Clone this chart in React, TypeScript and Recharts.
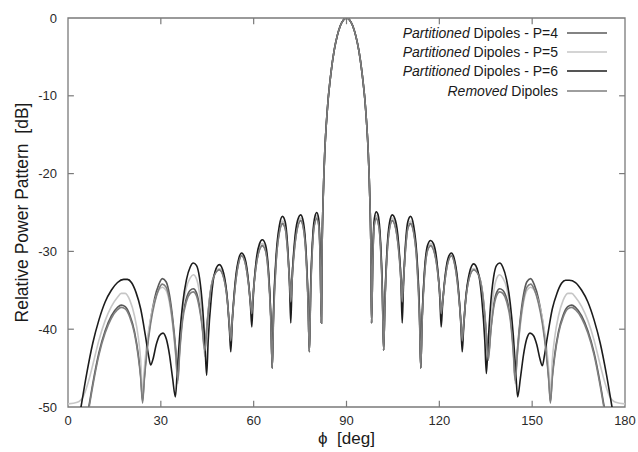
import React from 'react';
import { LineChart, Line, XAxis, YAxis, ReferenceLine, ReferenceArea } from 'recharts';

const FONT = '"Liberation Sans", Arial, Helvetica, sans-serif';

const xTicks = [0, 30, 60, 90, 120, 150, 180];
const yTicks = [-50, -40, -30, -20, -10, 0];

// angle grid (deg) for P=4, P=5 and Removed; left half ascending, right half descending
const phiLeftA = [0, 3, 5, 6.7, 8, 10, 12, 14, 16, 17.2, 18.5, 20, 21.5, 22.7, 23.5, 24.1, 24.6, 25.5, 26.7, 28,
  29.3, 30.5, 31.7, 32.8, 33.8, 34.8, 35.5, 36.1, 37, 38.3, 39.5, 40.5, 41.5, 42.5, 43.3, 44.2, 45, 46, 47.3, 48.9,
  50.3, 51.5, 52.2, 52.6, 53.1, 54.2, 55.2, 56.1, 57.2, 58.3, 59, 59.4, 59.8, 60.9, 61.9, 62.8, 63.8, 64.8, 65.6, 66,
  66.4, 67.3, 68.3, 69.3, 70.2, 71, 71.6, 72, 72.4, 73.2, 74.2, 75.2, 76.1, 77, 77.6, 78, 78.4, 79.2, 79.8, 80.4,
  81, 81.5, 81.9, 82.1, 82.4, 82.7, 83, 83.5, 84, 85, 86, 87, 88, 89, 90];
const phiRightA = [180, 177, 175, 173.3, 172, 170, 168, 166, 164, 162.8, 161.5, 160, 158.5, 157.3, 156.5, 155.9, 155.4, 154.5, 153.3, 152,
  150.7, 149.5, 148.3, 147.2, 146.2, 145.2, 144.5, 143.9, 143, 141.7, 140.5, 139.5, 138.5, 137.5, 136.7, 135.8, 135, 134, 132.7, 131.1,
  129.7, 128.5, 127.8, 127.4, 126.9, 125.8, 124.8, 123.9, 122.8, 121.7, 121, 120.6, 120.2, 119.1, 118.1, 117.2, 116.2, 115.2, 114.4, 114,
  113.6, 112.7, 111.7, 110.7, 109.8, 109, 108.4, 108, 107.6, 106.8, 105.8, 104.8, 103.9, 103, 102.4, 102, 101.6, 100.8, 100.2, 99.6,
  99, 98.5, 98.1, 97.9, 97.6, 97.3, 97, 96.5, 96, 95, 94, 93, 92, 91];

// angle grid for P=6
const phiLeftD = [0, 2, 4.2, 6, 8, 10, 12, 14, 16, 18, 19.2, 20.5, 22, 23.5, 25, 26, 26.7, 27.5, 28.5, 29.6,
  30.7, 31.8, 32.8, 33.8, 34.7, 35.3, 36.1, 37.1, 38.3, 39.5, 40.5, 41.5, 42.5, 43.5, 44.3, 44.8, 45.3, 46.3, 47.5, 48.9,
  50.3, 51.5, 52.2, 52.6, 53.1, 54.2, 55.2, 56.1, 57.2, 58.3, 59, 59.4, 59.8, 60.9, 61.9, 62.8, 63.8, 64.8, 65.6, 66,
  66.4, 67.3, 68.3, 69.3, 70.2, 71, 71.6, 72, 72.4, 73.2, 74.2, 75.2, 76.1, 77, 77.6, 78, 78.4, 79.2, 79.8, 80.4,
  81, 81.5, 81.9, 82.1, 82.4, 82.7, 83, 83.5, 84, 85, 86, 87, 88, 89, 90];
const phiRightD = [180, 178, 175.8, 174, 172, 170, 168, 166, 164, 162, 160.8, 159.5, 158, 156.5, 155, 154, 153.3, 152.5, 151.5, 150.4,
  149.3, 148.2, 147.2, 146.2, 145.3, 144.7, 143.9, 142.9, 141.7, 140.5, 139.5, 138.5, 137.5, 136.5, 135.7, 135.2, 134.7, 133.7, 132.5, 131.1,
  129.7, 128.5, 127.8, 127.4, 126.9, 125.8, 124.8, 123.9, 122.8, 121.7, 121, 120.6, 120.2, 119.1, 118.1, 117.2, 116.2, 115.2, 114.4, 114,
  113.6, 112.7, 111.7, 110.7, 109.8, 109, 108.4, 108, 107.6, 106.8, 105.8, 104.8, 103.9, 103, 102.4, 102, 101.6, 100.8, 100.2, 99.6,
  99, 98.5, 98.1, 97.9, 97.6, 97.3, 97, 96.5, 96, 95, 94, 93, 92, 91];

// Partitioned Dipoles - P=4 (dB)
const p4Left = [-62, -57, -53, -50, -47, -43, -40.2, -38.3, -37.2, -36.9,
  -37.1, -38.2, -40.3, -43.2, -46.0, -49.2, -46.5, -42.5, -38.8, -36.0,
  -34.3, -33.5, -33.9, -35.6, -38.5, -42.5, -46.1, -42.5, -38.5, -36.0,
  -35.0, -34.8, -35.3, -37.0, -39.2, -42.5, -39.0, -35.2, -33.0, -32.3,
  -33.3, -36.3, -39.5, -41.0, -38.5, -33.8, -31.3, -30.5, -31.3, -34.0,
  -36.5, -37.5, -35.5, -31.5, -29.7, -29.2, -29.8, -33.0, -39.0, -45.0,
  -38.5, -31.0, -27.5, -26.4, -27.0, -30.0, -33.5, -35.0, -33.0, -29.5,
  -26.8, -26.0, -27.0, -31.0, -36.5, -42.9, -35.5, -28.0, -26.2, -25.7,
  -26.5, -31.0, -39.2, -30, -24, -20, -17, -13.5, -10.8, -7.0,
  -4.2, -2.3, -1.0, -0.25, 0];
const p4Right = [-62, -57, -53, -50, -47, -43, -40.2, -38.3, -37.2, -36.9,
  -37.1, -38.2, -40.3, -43.2, -46.0, -49.3, -46.5, -42.5, -38.8, -36.0,
  -34.3, -33.5, -33.9, -35.6, -38.5, -42.8, -46.3, -42.5, -38.5, -36.0,
  -35.0, -34.8, -35.3, -37.0, -39.8, -43.5, -39.5, -35.4, -33.0, -32.3,
  -33.3, -36.3, -39.5, -41.0, -38.5, -33.8, -31.3, -30.5, -31.3, -34.0,
  -36.5, -37.5, -35.5, -31.5, -29.7, -29.2, -29.8, -33.0, -39.0, -45.0,
  -38.5, -31.0, -27.5, -26.4, -27.0, -30.0, -33.5, -35.0, -33.0, -29.5,
  -26.8, -26.0, -27.0, -31.0, -36.5, -42.7, -35.5, -28.0, -26.2, -25.7,
  -26.5, -31.0, -39.2, -30, -24, -20, -17, -13.5, -10.8, -7.0,
  -4.2, -2.3, -1.0, -0.25];

// Partitioned Dipoles - P=5 (dB)
const p5Left = [-49.6, -49.4, -48.6, -46.6, -44.6, -41.4, -38.9, -37.1, -35.9, -35.4,
  -35.4, -36.3, -38.3, -41.0, -44.0, -48.5, -45.5, -41.8, -38.6, -36.4,
  -35.0, -34.6, -35.0, -36.6, -39.4, -43.4, -47.0, -42.0, -37.6, -34.6,
  -33.4, -33.0, -33.5, -35.4, -38.5, -43.5, -39.5, -35.3, -33.0, -32.2,
  -33.2, -36.2, -39.8, -41.8, -38.6, -33.6, -31.1, -30.4, -31.2, -34.0,
  -36.8, -38.5, -35.8, -31.3, -29.5, -29.0, -29.6, -32.8, -39.0, -45.0,
  -38.3, -30.8, -27.2, -26.1, -26.7, -29.8, -34.0, -37.0, -33.5, -29.2,
  -26.5, -25.7, -26.7, -30.8, -36.5, -42.9, -35.3, -27.8, -26.0, -25.4,
  -26.3, -30.8, -39.2, -30, -24, -20, -17, -13.5, -10.8, -7.0,
  -4.2, -2.3, -1.0, -0.25, 0];
const p5Right = [-49.6, -49.4, -48.6, -46.6, -44.6, -41.4, -38.9, -37.1, -35.9, -35.4,
  -35.4, -36.3, -38.3, -41.0, -44.0, -48.5, -45.5, -41.8, -38.6, -36.4,
  -35.0, -34.6, -35.0, -36.6, -39.4, -43.4, -47.0, -42.0, -37.6, -34.6,
  -33.4, -33.0, -33.5, -35.4, -38.8, -44.0, -40.0, -35.5, -33.0, -32.2,
  -33.2, -36.2, -39.8, -41.8, -38.6, -33.6, -31.1, -30.4, -31.2, -34.0,
  -36.8, -38.5, -35.8, -31.3, -29.5, -29.0, -29.6, -32.8, -39.0, -45.0,
  -38.3, -30.8, -27.2, -26.1, -26.7, -29.8, -34.0, -37.0, -33.5, -29.2,
  -26.5, -25.7, -26.7, -30.8, -36.5, -42.7, -35.3, -27.8, -26.0, -25.4,
  -26.3, -30.8, -39.2, -30, -24, -20, -17, -13.5, -10.8, -7.0,
  -4.2, -2.3, -1.0, -0.25];

// Partitioned Dipoles - P=6 (dB)
const p6Left = [-60, -55, -50, -45.8, -41.8, -38.8, -36.5, -35.0, -34.0, -33.6,
  -33.6, -34.0, -35.3, -37.4, -40.8, -43.3, -44.6, -43.8, -42.0, -40.8,
  -40.5, -41.3, -43.3, -46.3, -48.7, -45.5, -40.8, -36.6, -33.6, -32.0,
  -31.5, -31.8, -33.4, -37.2, -42.3, -45.9, -41.5, -36.0, -32.6, -31.7,
  -32.8, -36.2, -40.3, -42.9, -39.0, -33.3, -30.9, -30.2, -30.9, -33.8,
  -37.2, -39.7, -36.3, -30.9, -29.0, -28.5, -29.1, -32.5, -39.0, -45.0,
  -38.0, -30.3, -26.7, -25.5, -26.2, -29.5, -34.5, -39.2, -34.0, -28.8,
  -26.0, -25.3, -26.3, -30.5, -36.5, -42.9, -35.0, -27.4, -25.5, -25.0,
  -25.8, -30.5, -39.2, -30, -24, -20, -17, -13.5, -10.8, -7.0,
  -4.2, -2.3, -1.0, -0.25, 0];
const p6Right = [-60, -55, -50, -45.8, -41.8, -38.8, -36.5, -35.0, -34.0, -33.7,
  -33.7, -34.1, -35.4, -37.4, -40.8, -43.3, -44.7, -43.8, -42.0, -40.8,
  -40.5, -41.3, -43.3, -46.3, -48.7, -45.5, -40.8, -36.6, -33.6, -32.0,
  -31.5, -31.8, -33.4, -37.2, -42.3, -45.7, -41.5, -36.0, -32.6, -31.6,
  -32.8, -36.2, -40.3, -42.9, -39.0, -33.3, -30.9, -30.2, -30.9, -33.8,
  -37.2, -39.7, -36.3, -30.9, -29.0, -28.6, -29.2, -32.5, -39.0, -45.0,
  -38.0, -30.3, -26.7, -25.5, -26.2, -29.5, -34.5, -39.2, -34.0, -28.8,
  -26.0, -25.3, -26.3, -30.5, -36.5, -42.7, -35.0, -27.4, -25.3, -24.9,
  -25.8, -30.5, -39.2, -30, -24, -20, -17, -13.5, -10.8, -7.0,
  -4.2, -2.3, -1.0, -0.25];

// Removed Dipoles (dB)
const remLeft = [-62.5, -57.5, -53.5, -50.3, -47.3, -43.3, -40.5, -38.6, -37.5, -37.2,
  -37.4, -38.5, -40.6, -43.5, -46.3, -49.5, -46.8, -43.0, -39.3, -36.6,
  -34.9, -34.2, -34.6, -36.2, -39.0, -43.0, -46.6, -43.0, -39.0, -36.4,
  -35.4, -35.2, -35.7, -37.4, -39.5, -42.8, -39.3, -35.4, -33.1, -32.4,
  -33.4, -36.4, -39.8, -41.5, -38.8, -33.9, -31.4, -30.6, -31.4, -34.1,
  -36.8, -38.0, -35.8, -31.6, -29.8, -29.3, -29.9, -33.2, -39.5, -45.0,
  -38.8, -31.2, -27.6, -26.5, -27.1, -30.2, -34.0, -36.5, -33.8, -29.7,
  -26.9, -26.1, -27.1, -31.2, -37.0, -42.9, -35.8, -28.2, -26.3, -25.8,
  -26.6, -31.2, -39.2, -30, -24, -20, -17, -13.5, -10.8, -7.0,
  -4.2, -2.3, -1.0, -0.25, 0];
const remRight = [-62.5, -57.5, -53.5, -50.3, -47.3, -43.3, -40.5, -38.6, -37.5, -37.2,
  -37.4, -38.5, -40.6, -43.5, -46.3, -49.5, -46.8, -43.0, -39.3, -36.6,
  -34.9, -34.2, -34.6, -36.2, -39.0, -43.2, -46.6, -43.0, -39.0, -36.4,
  -35.4, -35.2, -35.7, -37.4, -40.0, -44.0, -39.8, -35.6, -33.1, -32.4,
  -33.4, -36.4, -39.8, -41.5, -38.8, -33.9, -31.4, -30.6, -31.4, -34.1,
  -36.8, -38.0, -35.8, -31.6, -29.8, -29.3, -29.9, -33.2, -39.5, -45.0,
  -38.8, -31.2, -27.6, -26.5, -27.1, -30.2, -34.0, -36.5, -33.8, -29.7,
  -26.9, -26.1, -27.1, -31.2, -37.0, -42.7, -35.8, -28.2, -26.3, -25.8,
  -26.6, -31.2, -39.2, -30, -24, -20, -17, -13.5, -10.8, -7.0,
  -4.2, -2.3, -1.0, -0.25];

const legendItalic = ['Partitioned', 'Partitioned', 'Partitioned', 'Removed'];
const legendRest = [' Dipoles - P=4', ' Dipoles - P=5', ' Dipoles - P=6', ' Dipoles'];
const colors = ['#5a5a5a', '#c6c6c6', '#1c1c1c', '#7e7e7e'];

function build(phiL: number[], valL: number[], phiR: number[], valR: number[]) {
  const left = phiL.map((phi, i) => ({ phi, db: valL[i] }));
  const right = phiR.map((phi, i) => ({ phi, db: valR[i] })).reverse();
  return left.concat(right);
}

const series = [
  { key: 'p4', data: build(phiLeftA, p4Left, phiRightA, p4Right) },
  { key: 'p5', data: build(phiLeftA, p5Left, phiRightA, p5Right) },
  { key: 'p6', data: build(phiLeftD, p6Left, phiRightD, p6Right) },
  { key: 'rem', data: build(phiLeftA, remLeft, phiRightA, remRight) },
];

const frame = '#7a7a7a';

function LegendBox() {
  return (
    <div style={{ position: 'absolute', left: 360, top: 23, width: 247, height: 78, fontFamily: FONT, fontSize: 14, color: '#1a1a1a' }}>
      {legendItalic.map((it, i) => (
        <div key={i} style={{ position: 'absolute', left: 0, right: 0, top: i * 19.2, height: 20, display: 'flex', alignItems: 'center', justifyContent: 'flex-end' }}>
          <span style={{ whiteSpace: 'pre', lineHeight: '20px' }}><i>{it}</i>{legendRest[i]}</span>
          <svg width={49} height={10} style={{ display: 'block' }}>
            <line x1={9} x2={49} y1={5} y2={5} stroke={colors[i]} strokeWidth={1.7} />
          </svg>
        </div>
      ))}
    </div>
  );
}

export default function App() {
  const innerX = xTicks.slice(1, -1);
  const innerY = yTicks.slice(1, -1);
  return (
    <div style={{ position: 'absolute', left: 0, top: 0, width: 638, height: 452, background: '#fff' }}>
      <LineChart width={638} height={452} margin={{ top: 18, right: 13, bottom: 5, left: 8 }}>
        <XAxis
          dataKey="phi"
          type="number"
          domain={[0, 180]}
          ticks={xTicks}
          allowDataOverflow
          tickLine={false}
          axisLine={false}
          height={40}
          tickMargin={3}
          tick={{ fill: '#2a2a2a', fontSize: 13, fontFamily: FONT }}
          label={{ value: '\u03d5\u00a0\u00a0[deg]', position: 'insideBottom', offset: 3, fill: '#1a1a1a', fontSize: 17, fontFamily: FONT }}
        />
        <YAxis
          type="number"
          domain={[-50, 0]}
          ticks={yTicks}
          allowDataOverflow
          tickLine={false}
          axisLine={false}
          width={60}
          tickMargin={5}
          tick={{ fill: '#2a2a2a', fontSize: 13, fontFamily: FONT }}
          label={{ value: 'Relative Power Pattern\u00a0\u00a0[dB]', angle: -90, position: 'insideLeft', offset: 14, fill: '#1a1a1a', fontSize: 17.5, fontFamily: FONT, style: { textAnchor: 'middle' } }}
        />
        <ReferenceArea x1={0} x2={180} y1={-50} y2={0} fill="none" stroke={frame} strokeWidth={1.3} />
        {innerX.map((t) => (
          <ReferenceLine key={'xb' + t} segment={[{ x: t, y: -50 }, { x: t, y: -49.2 }]} stroke={frame} strokeWidth={1.2} />
        ))}
        {innerX.map((t) => (
          <ReferenceLine key={'xt' + t} segment={[{ x: t, y: 0 }, { x: t, y: -0.8 }]} stroke={frame} strokeWidth={1.2} />
        ))}
        {innerY.map((t) => (
          <ReferenceLine key={'yl' + t} segment={[{ x: 0, y: t }, { x: 1.9, y: t }]} stroke={frame} strokeWidth={1.2} />
        ))}
        {innerY.map((t) => (
          <ReferenceLine key={'yr' + t} segment={[{ x: 178.1, y: t }, { x: 180, y: t }]} stroke={frame} strokeWidth={1.2} />
        ))}
        {series.map((s, i) => (
          <Line
            key={s.key}
            data={s.data}
            dataKey="db"
            name={legendItalic[i] + legendRest[i]}
            type="monotone"
            dot={false}
            activeDot={false}
            stroke={colors[i]}
            strokeWidth={1.6}
            isAnimationActive={false}
          />
        ))}
      </LineChart>
      <LegendBox />
    </div>
  );
}
